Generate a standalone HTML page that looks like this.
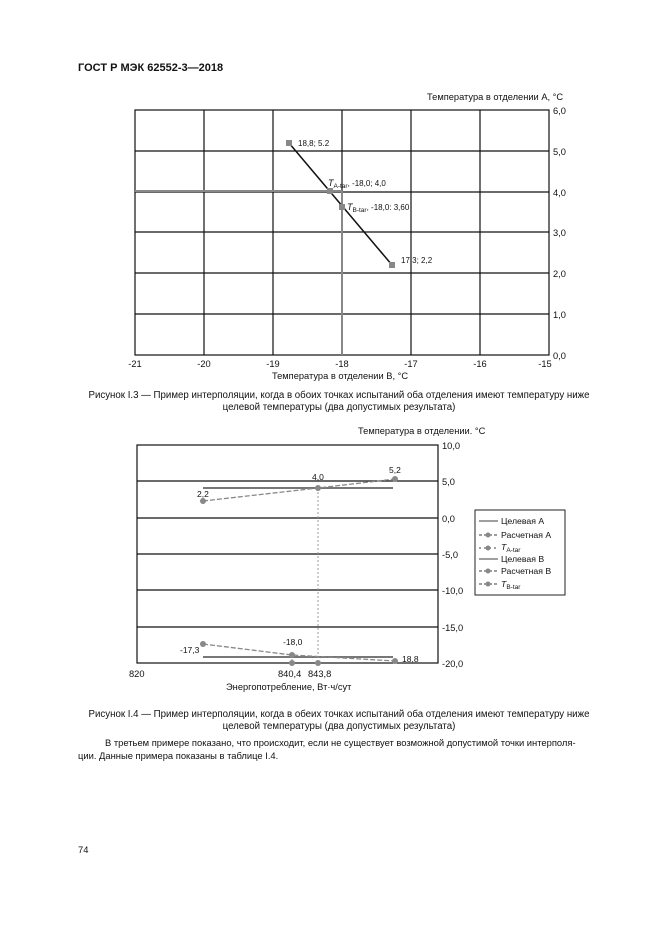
<!DOCTYPE html>
<html><head><meta charset="utf-8"><style>
body{margin:0;background:#fff}
svg{display:block}
text{font-family:"Liberation Sans",sans-serif;fill:#111}
</style></head><body>
<svg width="661" height="935" viewBox="0 0 661 935">
<text x="78" y="71" font-size="11" font-weight="bold">ГОСТ Р МЭК 62552-3—2018</text>

<!-- Chart 1 -->
<g stroke="#111" stroke-width="1.2" fill="none">
<rect x="135" y="110" width="414" height="245"/>
<line x1="204" y1="110" x2="204" y2="355"/><line x1="273" y1="110" x2="273" y2="355"/>
<line x1="342" y1="110" x2="342" y2="355"/><line x1="411" y1="110" x2="411" y2="355"/>
<line x1="480" y1="110" x2="480" y2="355"/>
<line x1="135" y1="151" x2="549" y2="151"/><line x1="135" y1="192" x2="549" y2="192"/>
<line x1="135" y1="232" x2="549" y2="232"/><line x1="135" y1="273" x2="549" y2="273"/>
<line x1="135" y1="314" x2="549" y2="314"/>
</g>
<line x1="135" y1="191" x2="342" y2="191" stroke="#888" stroke-width="2"/>
<line x1="342" y1="191" x2="342" y2="355" stroke="#888" stroke-width="2"/>
<line x1="289" y1="143" x2="392" y2="265" stroke="#111" stroke-width="1.5"/>
<g fill="#888"><rect x="286" y="140" width="6" height="6"/><rect x="389" y="262" width="6" height="6"/><rect x="327" y="188" width="6" height="6"/><rect x="339" y="204" width="6" height="6"/></g>
<g font-size="8">
<text x="298" y="146">18,8; 5.2</text>
<text x="401" y="263">17,3; 2,2</text>
<text x="328" y="186"><tspan font-style="italic" font-size="9">T</tspan><tspan font-size="6.5" dy="2">A-tar</tspan><tspan dy="-2">, -18,0; 4,0</tspan></text>
<text x="347" y="210"><tspan font-style="italic" font-size="9">T</tspan><tspan font-size="6.5" dy="2">B-tar</tspan><tspan dy="-2">, -18,0: 3,60</tspan></text>
</g>
<g font-size="9.3">
<text x="427" y="100">Температура в отделении А, °С</text>
<text x="553" y="114">6,0</text><text x="553" y="155">5,0</text><text x="553" y="196">4,0</text>
<text x="553" y="236">3,0</text><text x="553" y="277">2,0</text><text x="553" y="318">1,0</text><text x="553" y="359">0,0</text>
<g text-anchor="middle">
<text x="135" y="367">-21</text><text x="204" y="367">-20</text><text x="273" y="367">-19</text>
<text x="342" y="367">-18</text><text x="411" y="367">-17</text><text x="480" y="367">-16</text><text x="545" y="367">-15</text>
<text x="340" y="379">Температура в отделении В, °С</text>
</g>
</g>
<g font-size="9.7" text-anchor="middle">
<text x="339" y="398">Рисунок I.3 — Пример интерполяции, когда в обоих точках испытаний оба отделения имеют температуру ниже</text>
<text x="339" y="410">целевой температуры (два допустимых результата)</text>
</g>

<!-- Chart 2 -->
<g stroke="#111" stroke-width="1.2" fill="none">
<rect x="137" y="445" width="301" height="218"/>
<line x1="137" y1="481" x2="438" y2="481"/><line x1="137" y1="518" x2="438" y2="518"/>
<line x1="137" y1="554" x2="438" y2="554"/><line x1="137" y1="590" x2="438" y2="590"/>
<line x1="137" y1="627" x2="438" y2="627"/>
</g>
<line x1="203" y1="488" x2="393" y2="488" stroke="#777" stroke-width="2"/>
<line x1="203" y1="657" x2="393" y2="657" stroke="#777" stroke-width="2"/>
<line x1="318" y1="488" x2="318" y2="663" stroke="#999" stroke-dasharray="2,2"/>
<line x1="292" y1="655" x2="292" y2="663" stroke="#999" stroke-dasharray="2,2"/>
<polyline points="203,501 318,488 395,479" stroke="#888" stroke-width="1.3" fill="none" stroke-dasharray="5,2"/>
<polyline points="203,644 292,655 395,661" stroke="#888" stroke-width="1.3" fill="none" stroke-dasharray="5,2"/>
<g fill="#888">
<circle cx="203" cy="501" r="3"/><circle cx="318" cy="488" r="3"/><circle cx="395" cy="479" r="3"/>
<circle cx="203" cy="644" r="3"/><circle cx="292" cy="655" r="3"/><circle cx="395" cy="661" r="3"/>
<circle cx="292" cy="663" r="3"/><circle cx="318" cy="663" r="3"/>
</g>
<g font-size="8.5">
<text x="197" y="497">2,2</text><text x="312" y="480">4,0</text><text x="389" y="473">5,2</text>
<text x="180" y="653">-17,3</text><text x="283" y="645">-18,0</text><text x="402" y="662">18,8</text>
</g>
<g font-size="9.3">
<text x="358" y="434">Температура в отделении. °С</text>
<text x="442" y="449">10,0</text><text x="442" y="485">5,0</text><text x="442" y="522">0,0</text>
<text x="442" y="558">-5,0</text><text x="442" y="594">-10,0</text><text x="442" y="631">-15,0</text><text x="442" y="667">-20,0</text>
<text x="129" y="677">820</text><text x="278" y="677">840,4</text><text x="308" y="677">843,8</text>
<text x="226" y="690">Энергопотребление, Вт·ч/сут</text>
</g>
<!-- legend -->
<rect x="475" y="510" width="90" height="85" fill="#fff" stroke="#222"/>
<g stroke="#666" stroke-width="1.3">
<line x1="479" y1="521" x2="498" y2="521"/>
<line x1="479" y1="535" x2="498" y2="535" stroke-dasharray="3,2"/>
<line x1="479" y1="548" x2="498" y2="548" stroke-dasharray="2,3"/>
<line x1="479" y1="559" x2="498" y2="559"/>
<line x1="479" y1="571" x2="498" y2="571" stroke-dasharray="3,2"/>
<line x1="479" y1="584" x2="498" y2="584" stroke-dasharray="3,2"/>
</g>
<g fill="#888"><circle cx="488" cy="535" r="2.5"/><circle cx="488" cy="548" r="2.5"/><circle cx="488" cy="571" r="2.5"/><circle cx="488" cy="584" r="2.5"/></g>
<g font-size="8.7">
<text x="501" y="524">Целевая А</text>
<text x="501" y="538">Расчетная А</text>
<text x="501" y="550"><tspan font-style="italic">T</tspan><tspan font-size="6.5" dy="2">A-tar</tspan></text>
<text x="501" y="562">Целевая В</text>
<text x="501" y="574">Расчетная В</text>
<text x="501" y="587"><tspan font-style="italic">T</tspan><tspan font-size="6.5" dy="2">B-tar</tspan></text>
</g>

<g font-size="9.7">
<text x="339" y="717" text-anchor="middle">Рисунок I.4 — Пример интерполяции, когда в обеих точках испытаний оба отделения имеют температуру ниже</text>
<text x="339" y="729" text-anchor="middle">целевой температуры (два допустимых результата)</text>
</g>
<g font-size="9.4">
<text x="105" y="746">В третьем примере показано, что происходит, если не существует возможной допустимой точки интерполя-</text>
<text x="78" y="759">ции. Данные примера показаны в таблице I.4.</text>
<text x="78" y="853">74</text>
</g>
</svg>
</body></html>
